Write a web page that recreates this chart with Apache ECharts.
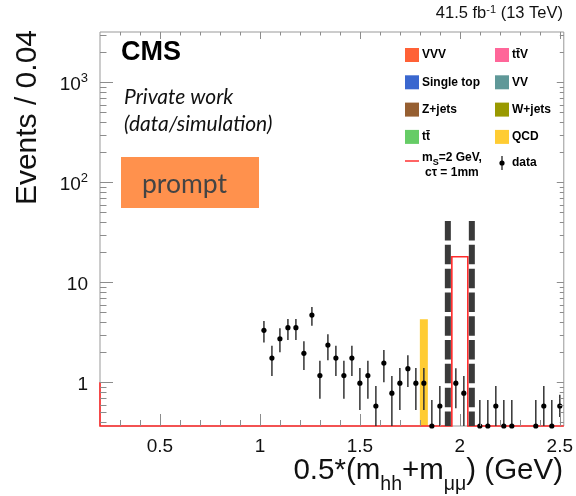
<!DOCTYPE html>
<html><head><meta charset="utf-8">
<script src="https://cdn.jsdelivr.net/npm/echarts@6/dist/echarts.min.js"></script>
<style>html,body{margin:0;padding:0;background:#fff}#c{width:576px;height:496px}</style>
</head><body><div id="c"></div>
<script>
// ---------------- data ----------------
const dataX  = [1.02,1.06,1.10,1.14,1.18,1.22,1.26,1.30,1.34,1.38,1.42,1.46,1.50,1.54,1.58,1.62,1.66,1.70,1.74,1.78,1.82,1.86,1.90,1.98,2.02,2.10,2.14,2.18,2.22,2.26,2.38,2.42,2.46,2.50];
const dataY  = [3.31,1.75,2.73,3.52,3.52,1.95,4.71,1.17,2.36,1.75,1.17,1.75,0.98,1.17,0.58,1.56,0.78,0.98,1.37,0.98,0.98,0,0.58,0.98,0.78,0,0,0.58,0,0,0,0.58,0,0.58];
const dataHi = [4.10,2.32,3.47,4.30,4.30,2.57,5.66,1.64,3.02,2.32,1.64,2.32,1.39,1.64,0.92,2.10,1.16,1.39,1.87,1.39,1.39,0.665,0.92,1.38,1.16,0.665,0.665,0.92,0.665,0.665,0.665,0.92,0.665,0.75];
const dataLo = [2.51,1.16,2.00,2.65,2.65,1.33,3.68,0.686,1.66,1.16,0.686,1.16,0.53,0.686,0,1.00,0,0.53,0.90,0.53,0.53,0,0,0.55,0,0,0,0,0,0,0,0,0,0.45];
const qcdEdges = [1.80, 1.84];
const qcdValues = [4.27];
const sigEdges = [0.2, 1.96, 2.04, 2.52];
const sigValues = [0, 18.0, 0];
const sigStart = 1;
const windowLines = [1.94, 2.06];
const windowTop = 41;
const xTickValues = [0.5, 1, 1.5, 2, 2.5];
const xTickLabels = ['0.5', '1', '1.5', '2', '2.5'];
const legendLeft  = [['VVV','#ff6136'],['Single top','#3a67cf'],['Z+jets','#965f31'],['tt\u0304','#66cc66']];
const legendRight = [['tt\u0304V','#ff6699'],['VV','#5f9898'],['W+jets','#999900'],['QCD','#ffcc33']];
// ---------------- layout ----------------
const xMin = 0.2, xMax = 2.52, yMin = 0.366, yMax = 3186;
const F = 'Liberation Sans, Arial, Helvetica, sans-serif';
const chart = echarts.init(document.getElementById('c'), null, {renderer: 'canvas'});
const clampY = v => Math.max(v, yMin);

function ticksRender(params, api) {
  const cs = params.coordSys;
  const L = cs.x, R = cs.x + cs.width, T = cs.y, B = cs.y + cs.height;
  const st = {stroke: '#8c8c8c', lineWidth: 1};
  const ch = [];
  for (let k = 3; k <= 25; k++) {
    const v = k / 10;
    const major = xTickValues.some(t => Math.abs(t - v) < 1e-9);
    const px = Math.round(api.coord([v, 1])[0]) + 0.5;
    ch.push({type: 'line', shape: {x1: px, y1: B, x2: px, y2: B - (major ? 12 : 6)}, style: st});
    ch.push({type: 'line', shape: {x1: px, y1: T, x2: px, y2: T + (major ? 7 : 3.5)}, style: st});
  }
  for (let d = -1; d <= 3; d++) {
    for (let m = 1; m <= 9; m++) {
      const v = m * Math.pow(10, d);
      if (v < yMin || v > yMax) continue;
      const py = Math.round(api.coord([1, v])[1]) + 0.5;
      const major = m === 1;
      ch.push({type: 'line', shape: {x1: L, y1: py, x2: L + (major ? 13 : 6.5), y2: py}, style: st});
      ch.push({type: 'line', shape: {x1: R, y1: py, x2: R - (major ? 7 : 4), y2: py}, style: st});
    }
  }
  return {type: 'group', children: ch};
}

const legendChildren = [];
legendLeft.forEach((it, i) => {
  const cy = 55 + i * 27.3;
  legendChildren.push({type: 'rect', shape: {x: 405, y: cy - 7, width: 14, height: 14}, style: {fill: it[1]}});
  legendChildren.push({type: 'text', style: {x: 422, y: cy, text: it[0], font: 'bold 12px ' + F, fill: '#000', verticalAlign: 'middle'}});
});
legendRight.forEach((it, i) => {
  const cy = 55 + i * 27.3;
  legendChildren.push({type: 'rect', shape: {x: 495, y: cy - 7, width: 14, height: 14}, style: {fill: it[1]}});
  legendChildren.push({type: 'text', style: {x: 512, y: cy, text: it[0], font: 'bold 12px ' + F, fill: '#000', verticalAlign: 'middle'}});
});
legendChildren.push({type: 'line', shape: {x1: 405, y1: 161, x2: 419, y2: 161}, style: {stroke: '#ff3030', lineWidth: 1.5}});
legendChildren.push({type: 'text', style: {x: 422, y: 167, text: '{a|m}{s|S}{a|=2 GeV,}', verticalAlign: 'bottom',
  rich: {a: {font: 'bold 12px ' + F, fill: '#000', verticalAlign: 'bottom', padding: [0, 0, 3, 0]}, s: {font: 'bold 9px ' + F, fill: '#000', verticalAlign: 'bottom'}}}});
legendChildren.push({type: 'text', style: {x: 425, y: 173, text: 'c\u03c4 = 1mm', font: 'bold 12px ' + F, fill: '#000', verticalAlign: 'middle'}});
legendChildren.push({type: 'line', shape: {x1: 502, y1: 156, x2: 502, y2: 170}, style: {stroke: '#222', lineWidth: 1.3}});
legendChildren.push({type: 'circle', shape: {cx: 502, cy: 163, r: 2.6}, style: {fill: '#000'}});
legendChildren.push({type: 'text', style: {x: 512, y: 163, text: 'data', font: 'bold 12px ' + F, fill: '#000', verticalAlign: 'middle'}});

const option = {
  animation: false,
  backgroundColor: '#fff',
  grid: {left: 100, top: 32, width: 464, height: 394, show: true, borderColor: '#999', borderWidth: 1, backgroundColor: 'transparent'},
  xAxis: {
    type: 'value', min: xMin, max: xMax, interval: 0.1,
    axisLine: {show: false}, axisTick: {show: false}, splitLine: {show: false},
    axisLabel: {
      margin: 11, color: '#111', fontSize: 19, fontFamily: F,
      showMinLabel: true, showMaxLabel: true,
      formatter: v => {
        const i = xTickValues.findIndex(t => Math.abs(t - v) < 1e-6);
        return i >= 0 ? xTickLabels[i] : '';
      }
    }
  },
  yAxis: {
    type: 'log', logBase: 10, min: yMin, max: yMax,
    axisLine: {show: false}, axisTick: {show: false}, splitLine: {show: false}, minorTick: {show: false},
    axisLabel: {
      margin: 12, color: '#111', fontSize: 19, fontFamily: F,
      formatter: v => {
        const e = Math.log10(v), r = Math.round(e);
        if (Math.abs(e - r) > 1e-4) return '';
        if (r === 0) return '{n|1}';
        if (r === 1) return '{n|10}';
        return '{n|10}{sup|' + r + '}';
      },
      rich: {
        n: {fontSize: 19, fontFamily: F, color: '#111', verticalAlign: 'bottom', lineHeight: 24},
        sup: {fontSize: 13, fontFamily: F, color: '#111', verticalAlign: 'bottom', padding: [0, 0, 9, 0], lineHeight: 24}
      }
    }
  },
  series: [
    {
      type: 'custom', name: 'QCD', z: 2,
      data: qcdValues.map((v, i) => [qcdEdges[i], v, qcdEdges[i + 1]]),
      encode: {x: 0, y: 1},
      renderItem: (params, api) => {
        const p1 = api.coord([api.value(0), api.value(1)]);
        const p2 = api.coord([api.value(2), yMin]);
        return {type: 'rect', shape: {x: p1[0], y: p1[1], width: p2[0] - p1[0], height: p2[1] - p1[1]}, style: {fill: '#ffcc33'}};
      }
    },
    {
      type: 'custom', name: 'signal', z: 3,
      data: [[sigEdges[0], sigStart]],
      encode: {x: 0, y: 1},
      renderItem: (params, api) => {
        const pts = [api.coord([sigEdges[0], sigStart])];
        sigValues.forEach((v, i) => {
          pts.push(api.coord([sigEdges[i], clampY(v)]));
          pts.push(api.coord([sigEdges[i + 1], clampY(v)]));
        });
        return {type: 'polyline', shape: {points: pts}, style: {stroke: '#ff2a2a', lineWidth: 1.6, fill: 'none'}};
      }
    },
    {
      type: 'custom', name: 'data', z: 4,
      data: dataX.map((x, i) => [x, dataY[i], dataHi[i], dataLo[i]]),
      encode: {x: 0, y: 1},
      renderItem: (params, api) => {
        const x = api.value(0);
        const p = api.coord([x, clampY(api.value(1))]);
        const ph = api.coord([x, clampY(api.value(2))]);
        const pl = api.coord([x, clampY(api.value(3))]);
        return {type: 'group', children: [
          {type: 'line', shape: {x1: p[0], y1: ph[1], x2: p[0], y2: pl[1]}, style: {stroke: '#333', lineWidth: 1.5}},
          {type: 'circle', shape: {cx: p[0], cy: p[1], r: 2.6}, style: {fill: '#000'}}
        ]};
      }
    },
    {
      type: 'custom', name: 'window', z: 5,
      data: windowLines.map(x => [x, windowTop]),
      encode: {x: 0, y: 1},
      renderItem: (params, api) => {
        const pt = api.coord([api.value(0), api.value(1)]);
        const pb = api.coord([api.value(0), yMin]);
        return {type: 'line', shape: {x1: pt[0], y1: pt[1], x2: pb[0], y2: pb[1]},
          style: {stroke: '#3a3a3a', lineWidth: 6, lineDash: [19.5, 4.3], lineCap: 'butt'}};
      }
    },
    {
      type: 'custom', name: 'ticks', z: 6, silent: true,
      data: [[1, 1]],
      encode: {x: 0, y: 1},
      renderItem: ticksRender
    }
  ],
  graphic: [
    {type: 'text', style: {x: 563, y: 22, align: 'right', verticalAlign: 'bottom', text: '{a|41.5 fb}{s|-1}{a| (13 TeV)}',
      rich: {a: {font: '16.5px ' + F, fill: '#111', verticalAlign: 'bottom'}, s: {font: '11px ' + F, fill: '#111', verticalAlign: 'bottom', padding: [0, 0, 7, 0]}}}},
    {type: 'text', style: {x: 121, y: 53, text: 'CMS', font: 'bold 27px ' + F, fill: '#000', verticalAlign: 'middle'}},
    {type: 'text', style: {x: 124, y: 97, text: 'Private work', font: 'italic 21px Lato', fill: '#111', verticalAlign: 'middle'}},
    {type: 'text', style: {x: 124, y: 124, text: '(data/simulation)', font: 'italic 21px Lato', fill: '#111', verticalAlign: 'middle'}},
    {type: 'rect', shape: {x: 121, y: 157, width: 138, height: 51}, style: {fill: '#ff914d'}},
    {type: 'text', style: {x: 142, y: 184, text: 'prompt', font: '26.5px Lato', fill: '#444', verticalAlign: 'middle'}},
    {type: 'text', rotation: Math.PI / 2, x: 28, y: 30, style: {x: 0, y: 0, text: 'Events / 0.04', font: '30px ' + F, fill: '#111', align: 'right', verticalAlign: 'middle'}},
    {type: 'text', style: {x: 563, y: 496, align: 'right', verticalAlign: 'bottom', text: '{n|0.5*(m}{s|hh}{n|+m}{s|\u03bc\u03bc}{n|) (GeV)}',
      rich: {n: {font: '29.5px ' + F, fill: '#111', verticalAlign: 'bottom', padding: [0, 0, 10, 0]}, s: {font: '19.5px ' + F, fill: '#111', verticalAlign: 'bottom', padding: [0, 0, 1, 0]}}}},
    {type: 'group', children: legendChildren}
  ]
};
chart.setOption(option);
</script>
</body></html>
